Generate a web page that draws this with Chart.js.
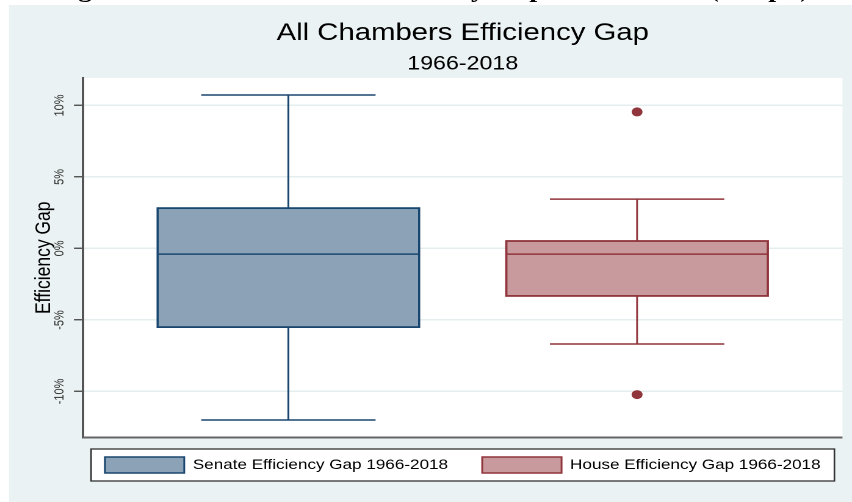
<!DOCTYPE html>
<html>
<head>
<meta charset="utf-8">
<script src="https://cdn.jsdelivr.net/npm/chart.js@4.4.1/dist/chart.umd.min.js"></script>
<style>
  html, body { margin: 0; padding: 0; background: #ffffff; overflow: hidden; }
  #wrap { position: absolute; left: 0; top: 0; width: 698px; height: 502px;
          transform: scaleX(1.2206); transform-origin: 0 0; overflow: hidden; }
  #wrap canvas { position: absolute; left: 0; top: 0; }
  #heading { position: absolute; left: 43px; top: -22px; white-space: nowrap;
             font-family: "Liberation Serif", serif; font-weight: bold; font-size: 23.5px;
             line-height: 1; color: #000; z-index: 2; }
</style>
</head>
<body>
<div id="wrap">
  <canvas id="c"></canvas>
  <div id="heading">Figure 10: All Chambers Efficiency Gap Distribution (Graph)</div>
</div>
<script>
// ---- data ----
const categories = ['Senate Efficiency Gap 1966-2018', 'House Efficiency Gap 1966-2018'];
const whiskerLow  = [-12.0, -6.68];
const q1          = [-5.5, -3.32];
const median      = [-0.4, -0.4];
const q3          = [2.82, 0.52];
const whiskerHigh = [10.73, 3.45];
const senateOutliers = [];
const houseOutliers  = [9.55, -10.22];
const yTickStep = 5;

// ---- styles ----
const fills   = ['#8ca3b7', '#c89a9d'];
const strokes = ['#1a476f', '#90353b'];
const outlierSets = [senateOutliers, houseOutliers];
const LEG_PAD = 28;

const bgPlugin = {
  id: 'bg',
  afterLayout(chart) {
    const lg = chart.legend, a = chart.chartArea;
    if (lg) {
      lg.top -= 8.5; lg.bottom -= 8.5;
      const d = (a.left + a.right) / 2 - (lg.left + lg.right) / 2;
      lg.left += d; lg.right += d;
    }
  },
  beforeDraw(chart) {
    const ctx = chart.ctx, a = chart.chartArea;
    ctx.save();
    ctx.fillStyle = '#ffffff';
    ctx.fillRect(0, 0, chart.width, chart.height);
    ctx.fillStyle = '#eaf2f3';
    ctx.fillRect(7.4, 5, chart.width - 7.4, chart.height - 5);
    ctx.fillStyle = '#ffffff';
    ctx.fillRect(a.left, a.top, a.right - a.left, a.bottom - a.top);
    // legend frame
    const lg = chart.legend;
    const cy = lg.top + LEG_PAD + 8;
    ctx.fillStyle = '#ffffff';
    ctx.fillRect(a.left + 6.6, cy - 16, (a.right - a.left) - 13.2, 32);
    ctx.strokeStyle = '#333333';
    ctx.lineWidth = 1.3;
    ctx.strokeRect(a.left + 6.6, cy - 16, (a.right - a.left) - 13.2, 32);
    ctx.restore();
  },
  beforeDatasetsDraw(chart) {
    const ctx = chart.ctx, a = chart.chartArea;
    const xs = chart.scales.x, ys = chart.scales.y;
    ctx.save();
    // bottom axis line
    ctx.strokeStyle = '#666666';
    ctx.lineWidth = 2;
    ctx.beginPath();
    ctx.moveTo(a.left, a.bottom);
    ctx.lineTo(a.right, a.bottom);
    ctx.stroke();
    for (let i = 0; i < categories.length; i++) {
      const cx = xs.getPixelForValue(i);
      const bx0 = xs.getPixelForValue(i - 0.375), bx1 = xs.getPixelForValue(i + 0.375);
      const cx0 = xs.getPixelForValue(i - 0.25),  cx1 = xs.getPixelForValue(i + 0.25);
      const yq1 = ys.getPixelForValue(q1[i]), yq3 = ys.getPixelForValue(q3[i]);
      const ymed = ys.getPixelForValue(median[i]);
      const ylo = ys.getPixelForValue(whiskerLow[i]), yhi = ys.getPixelForValue(whiskerHigh[i]);
      ctx.strokeStyle = strokes[i];
      // whiskers
      ctx.lineWidth = 1.5;
      ctx.beginPath();
      ctx.moveTo(cx, yq3); ctx.lineTo(cx, yhi);
      ctx.moveTo(cx, yq1); ctx.lineTo(cx, ylo);
      ctx.moveTo(cx0, yhi); ctx.lineTo(cx1, yhi);
      ctx.moveTo(cx0, ylo); ctx.lineTo(cx1, ylo);
      ctx.stroke();
      // box
      ctx.fillStyle = fills[i];
      ctx.fillRect(bx0, yq3, bx1 - bx0, yq1 - yq3);
      ctx.lineWidth = 1.8;
      ctx.strokeRect(bx0, yq3, bx1 - bx0, yq1 - yq3);
      // median
      ctx.lineWidth = 1.5;
      ctx.beginPath();
      ctx.moveTo(bx0, ymed); ctx.lineTo(bx1, ymed);
      ctx.stroke();
    }
    ctx.restore();
  }
};

const FONT = '"Liberation Sans", Arial, Helvetica, sans-serif';

new Chart(document.getElementById('c'), {
  type: 'scatter',
  data: {
    datasets: categories.map((name, i) => ({
      label: name,
      data: outlierSets[i].map(v => ({ x: i, y: v })),
      pointRadius: 4.5,
      pointHoverRadius: 4.5,
      pointBackgroundColor: strokes[i],
      pointBorderWidth: 0,
      backgroundColor: fills[i],
      borderColor: strokes[i]
    }))
  },
  options: {
    responsive: true,
    maintainAspectRatio: false,
    animation: false,
    devicePixelRatio: 2,
    events: [],
    layout: { padding: { left: 25.5, right: 7.8, top: 0, bottom: 10.5 } },
    scales: {
      x: { type: 'linear', min: -0.589, max: 1.589, display: false },
      y: {
        type: 'linear',
        min: -13.22, max: 11.92,
        afterFit(s) { s.width = 42.5; },
        border: { display: true, color: '#555555', width: 2 },
        grid: { color: '#e4eeef', lineWidth: 1.5, tickLength: 7.4, tickColor: '#444444', tickWidth: 1.3 },
        ticks: {
          stepSize: yTickStep,
          includeBounds: false,
          minRotation: 90, maxRotation: 90,
          crossAlign: 'center',
          padding: -1.4,
          color: '#333333',
          font: { family: FONT, size: 11 },
          callback: v => v + '%'
        },
        title: {
          display: true, text: 'Efficiency Gap', color: '#000000',
          font: { family: FONT, size: 17.5 }, padding: { top: 0, bottom: 0 }
        }
      }
    },
    plugins: {
      title: {
        display: true, text: 'All Chambers Efficiency Gap', color: '#000000', fullSize: false,
        font: { family: FONT, size: 24, weight: 'normal' }, padding: { top: 19.2, bottom: 0 }
      },
      subtitle: {
        display: true, text: '1966-2018', color: '#000000', fullSize: false,
        font: { family: FONT, size: 19, weight: 'normal' }, padding: { top: 5, bottom: 2.2 }
      },
      legend: {
        display: true, position: 'bottom', fullSize: true,
        labels: {
          boxWidth: 65, boxHeight: 16, padding: LEG_PAD, color: '#000000',
          font: { family: FONT, size: 14 },
          generateLabels: () => categories.map((t, i) => ({
            text: t, fillStyle: fills[i], strokeStyle: strokes[i], lineWidth: 1.5,
            hidden: false, datasetIndex: i, fontColor: '#000000'
          }))
        }
      },
      tooltip: { enabled: false }
    }
  },
  plugins: [bgPlugin]
});
</script>
</body>
</html>
